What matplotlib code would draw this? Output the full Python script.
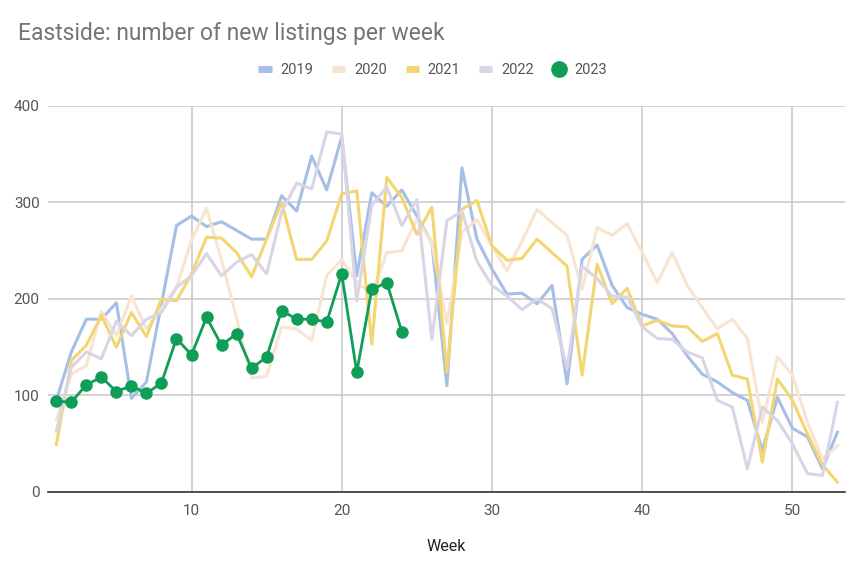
import matplotlib.pyplot as plt
from matplotlib.lines import Line2D

weeks = list(range(1, 54))

y2019 = [95, 145, 179, 179, 196, 97, 114, 195, 276, 286, 275, 280, 271, 262, 262, 307, 291, 348, 313, 368,
         224, 310, 296, 313, 286, 258, 110, 336, 262, 231, 205, 206, 195, 214, 112, 241, 256, 214, 191, 184,
         179, 164, 141, 122, 114, 103, 95, 43, 98, 66, 57, 24, 62]
y2020 = [75, 122, 131, 187, 162, 203, 169, 190, 212, 261, 294, 240, 180, 118, 120, 171, 169, 157, 224, 241,
         217, 205, 248, 250, 283, 258, 175, 269, 282, 255, 229, 260, 293, 279, 266, 210, 274, 266, 278, 248,
         217, 248, 214, 191, 169, 179, 159, 72, 140, 121, 72, 34, 48]
y2021 = [49, 136, 152, 183, 150, 186, 161, 200, 198, 226, 264, 263, 248, 223, 262, 300, 241, 241, 260, 309,
         312, 153, 326, 305, 267, 295, 124, 293, 302, 255, 240, 242, 262, 248, 234, 121, 236, 195, 211, 172,
         178, 172, 171, 156, 164, 121, 117, 31, 117, 95, 60, 28, 10]
y2022 = [63, 129, 145, 138, 177, 162, 179, 186, 212, 224, 247, 224, 238, 246, 226, 290, 320, 314, 373, 371,
         198, 297, 316, 276, 303, 158, 281, 291, 239, 214, 203, 189, 200, 190, 128, 234, 221, 203, 202, 171,
         159, 158, 145, 139, 95, 88, 24, 88, 74, 50, 19, 17, 93]
weeks2023 = list(range(1, 25))
y2023 = [94, 93, 111, 119, 104, 110, 102, 113, 159, 142, 181, 152, 164, 128, 140, 188, 179, 179, 176, 226,
         124, 210, 217, 166]

series = [("2019", y2019, "#a6bfe6"),
          ("2020", y2020, "#f8e4cf"),
          ("2021", y2021, "#f3d672"),
          ("2022", y2022, "#d9d5e6")]
green = "#0f9d58"

plt.rcParams['font.family'] = ['Roboto', 'DejaVu Sans']

fig = plt.figure(figsize=(8.64, 5.76), dpi=100)
ax = fig.add_axes([0.0556, 0.146, 0.9224, 0.670])

for name, vals, col in series:
    ax.plot(weeks, vals, color=col, lw=2.2, zorder=2)
ax.plot(weeks2023, y2023, color=green, lw=2, marker="o", markersize=8, zorder=3)

ax.set_xlim(0.45, 53.5)
ax.set_ylim(0, 400)
ax.set_xticks([10, 20, 30, 40, 50])
ax.set_yticks([0, 100, 200, 300, 400])
ax.grid(True, color="#cccccc", lw=1.2)
ax.set_axisbelow(True)
for s in ["top", "right", "left"]:
    ax.spines[s].set_visible(False)
ax.spines["bottom"].set_color("#333333")
ax.spines["bottom"].set_linewidth(1.2)
ax.spines["bottom"].set_zorder(4)
ax.tick_params(length=0, labelsize=11, colors="#555555", pad=9)
ax.tick_params(axis="y", pad=6)
ax.set_xlabel("Week", fontsize=11.5, color="#222222", labelpad=15)

fig.text(0.021, 0.942, "Eastside: number of new listings per week", fontsize=16.5,
         color="#757575", va="center", ha="left")

handles = [Line2D([], [], color=col, lw=5, solid_capstyle="butt") for _, _, col in series]
handles.append(Line2D([], [], color=green, lw=0, marker="o", markersize=11))
labels = [s[0] for s in series] + ["2023"]
leg = fig.legend(handles, labels, loc="center", bbox_to_anchor=(0.501, 0.878), ncol=5,
                 frameon=False, fontsize=10.5, handlelength=0.9, handletextpad=0.6, columnspacing=1.3)
for t in leg.get_texts():
    t.set_color("#555555")

fig.savefig("out.png", dpi=100)
